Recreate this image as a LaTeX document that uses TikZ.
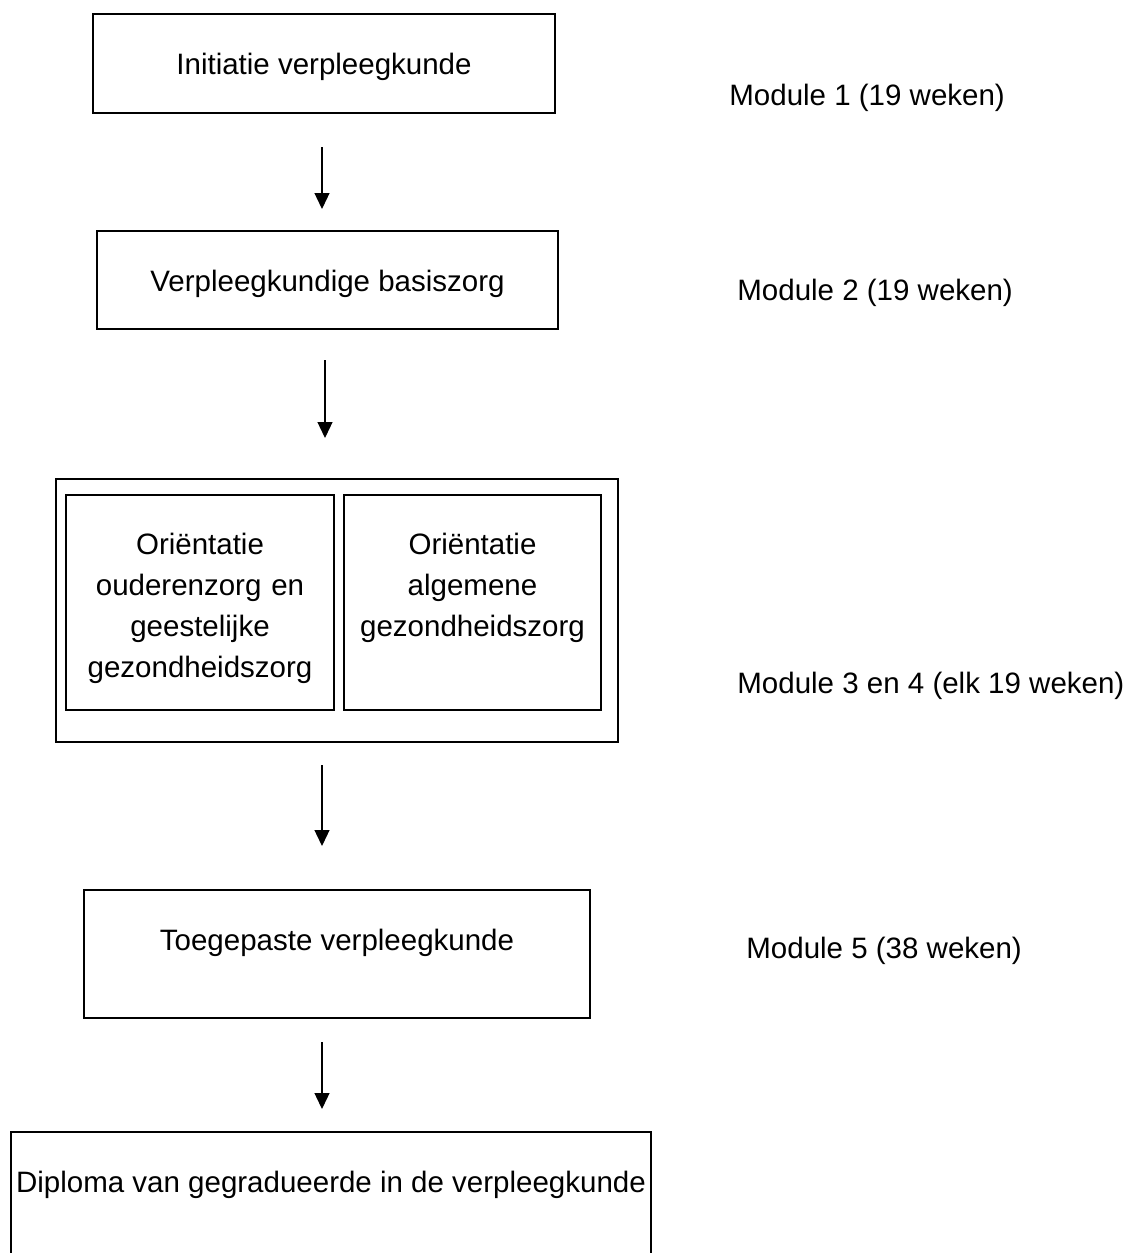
\documentclass[tikz,border=0pt]{standalone}
\usepackage{fontspec}
\setmainfont{Liberation Sans}
\usetikzlibrary{arrows.meta}

\begin{document}
\begin{tikzpicture}[x=0.5pt, y=-0.5pt,
		font=\fontsize{14.75}{20.5}\selectfont,
		modbox/.style={draw, line width=1pt, rectangle, inner sep=0pt, anchor=north, text height=30pt},
		pijl/.style={-{Triangle[length=8pt, width=7.5pt]}, line width=0.65pt},
		modtekst/.style={anchor=base west, inner sep=0pt}]
		\clip ( 0, 0 ) rectangle ( 1125, 1253 );
		% opleidingsonderdelen
		\node [modbox, minimum width=231pt, text depth=19.5pt] (initiatie) at ( 324, 13 ) {Initiatie verpleegkunde};
		\node [modbox, minimum width=230.5pt, text depth=19pt] (basiszorg) at ( 327.5, 230 ) {Verpleegkundige basiszorg};
		\node [modbox, minimum width=281pt, minimum height=131.5pt, text height=0pt, text depth=0pt] (blok) at ( 337, 478 ) {};
		\node [modbox, text width=134pt, align=center, text height=29.5pt, text depth=78pt] (ouderen) at ( 200, 494 ) {Oriëntatie\\ouderenzorg en\\geestelijke\\gezondheidszorg};
		\node [modbox, text width=128.5pt, align=center, text height=29.5pt, text depth=78pt] (algemeen) at ( 472.5, 494 ) {Oriëntatie\\algemene\\gezondheidszorg};
		\node [modbox, minimum width=253pt, text depth=34pt] (toegepast) at ( 337, 889 ) {Toegepaste verpleegkunde};
		\node [modbox, minimum width=320pt, text depth=55pt] (diploma) at ( 331, 1131 ) {Diploma van gegradueerde in de verpleegkunde};
		% duur van de modules
		\node [modtekst] (mod1) at ( 729, 105 ) {Module 1 (19 weken)};
		\node [modtekst] (mod2) at ( 737, 300 ) {Module 2 (19 weken)};
		\node [modtekst] (mod34) at ( 737, 693 ) {Module 3 en 4 (elk 19 weken)};
		\node [modtekst] (mod5) at ( 746, 958 ) {Module 5 (38 weken)};
		% pijlen
		\draw [pijl, shorten <=16.5pt, shorten >=10.5pt] ([xshift=-1pt]initiatie.south) -- ([xshift=-1pt]initiatie.south |- basiszorg.north);
		\draw [pijl, shorten <=15pt, shorten >=20pt] ([xshift=-1.25pt]basiszorg.south) -- ([xshift=-1.25pt]basiszorg.south |- blok.north);
		\draw [pijl, shorten <=11pt, shorten >=21.5pt] ([xshift=-7.5pt]blok.south) -- ([xshift=-7.5pt]blok.south |- toegepast.north);
		\draw [pijl, shorten <=11.5pt, shorten >=11pt] ([xshift=-7.5pt]toegepast.south) -- ([xshift=-7.5pt]toegepast.south |- diploma.north);
\end{tikzpicture}
\end{document}
